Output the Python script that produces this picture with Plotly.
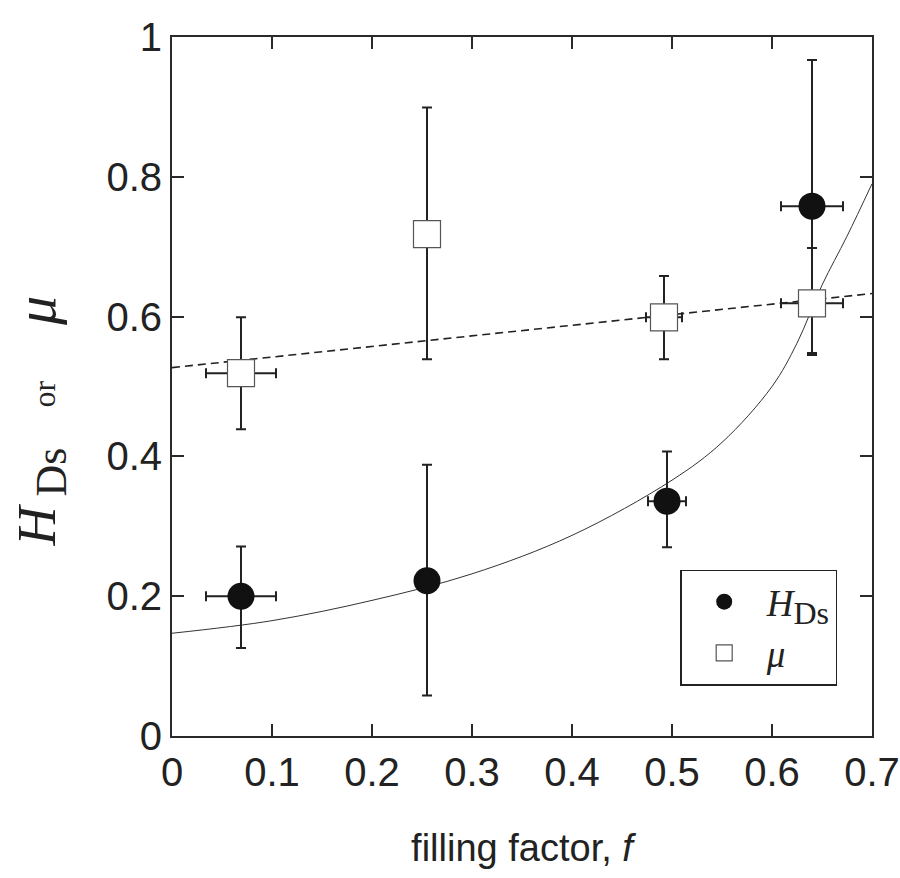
import plotly.graph_objects as go

# --- data ---
hds_x = [0.069, 0.255, 0.495, 0.640]
hds_y = [0.200, 0.222, 0.336, 0.758]
hds_xerr = [0.035, 0.0, 0.019, 0.031]
hds_yerr_plus = [0.071, 0.166, 0.071, 0.209]
hds_yerr_minus = [0.074, 0.164, 0.066, 0.210]

mu_x = [0.069, 0.255, 0.492, 0.640]
mu_y = [0.519, 0.718, 0.599, 0.619]
mu_xerr = [0.035, 0.0, 0.018, 0.031]
mu_yerr_plus = [0.080, 0.181, 0.059, 0.079]
mu_yerr_minus = [0.080, 0.179, 0.060, 0.074]

# fitted curves
hds_fit_x = [0.0, 0.1, 0.2, 0.3, 0.4, 0.5, 0.55, 0.6, 0.625, 0.65, 0.675, 0.7]
hds_fit_y = [0.147, 0.165, 0.194, 0.232, 0.287, 0.366, 0.42, 0.5, 0.562, 0.645, 0.715, 0.79]
mu_fit_x = [0.0, 0.7]
mu_fit_y = [0.527, 0.633]

x_ticks = [0, 0.1, 0.2, 0.3, 0.4, 0.5, 0.6, 0.7]
x_ticktext = ["0", "0.1", "0.2", "0.3", "0.4", "0.5", "0.6", "0.7"]
y_ticks = [0, 0.2, 0.4, 0.6, 0.8, 1.0]
y_ticktext = ["0", "0.2", "0.4", "0.6", "0.8", "1"]

SANS = "Liberation Sans Narrow, Arial Narrow, Liberation Sans, Arial"
SERIF = "Liberation Serif, Times New Roman, DejaVu Serif"
AX = "#2a2a2a"
NB = "\u00a0"

fig = go.Figure()

fig.add_trace(go.Scatter(
    x=hds_fit_x, y=hds_fit_y, mode="lines", line=dict(color="#333", width=1, shape="spline"),
    showlegend=False, hoverinfo="skip"))
fig.add_trace(go.Scatter(
    x=mu_fit_x, y=mu_fit_y, mode="lines", line=dict(color="#222", width=1.6, dash="8px,5px"),
    showlegend=False, hoverinfo="skip"))

fig.add_trace(go.Scatter(
    x=hds_x, y=hds_y, mode="markers",
    name="<i>H</i><sub><span style='font-size:32px'>Ds</span></sub>",
    marker=dict(symbol="circle", size=27, color="#111", line=dict(width=0)),
    error_y=dict(type="data", symmetric=False, array=hds_yerr_plus, arrayminus=hds_yerr_minus,
                 color="#222", thickness=2, width=5),
    error_x=dict(type="data", array=hds_xerr, color="#222", thickness=2, width=5),
))
fig.add_trace(go.Scatter(
    x=mu_x, y=mu_y, mode="markers", name="<i>μ</i>",
    marker=dict(symbol="square", size=27, color="white", line=dict(width=1.2, color="#555")),
    error_y=dict(type="data", symmetric=False, array=mu_yerr_plus, arrayminus=mu_yerr_minus,
                 color="#222", thickness=2, width=5),
    error_x=dict(type="data", array=mu_xerr, color="#222", thickness=2, width=5),
))

axis_common = dict(
    showgrid=False, zeroline=False, showline=True, linecolor=AX, linewidth=2,
    mirror="ticks", ticks="inside", ticklen=12, tickwidth=2, tickcolor=AX,
    tickfont=dict(family=SANS, size=40, color="#222"),
    ticklabeloverflow="allow", automargin=False,
)

ytitle = ("<i>H</i>" + "<span style='font-size:40px'>" + NB + "</span>"
          + "<sub><span style='font-size:44px'>Ds</span></sub>"
          + "<span style='font-size:32px'>" + NB * 5 + "or" + NB * 7 + "</span>"
          + "<i><span style='font-size:58px'>μ</span></i>")

fig.update_layout(
    width=900, height=878,
    margin=dict(l=172, r=28, t=37, b=142),
    paper_bgcolor="white", plot_bgcolor="white",
    xaxis=dict(range=[0, 0.7], tickvals=x_ticks, ticktext=x_ticktext,
               ticklabelstandoff=0,
               title=dict(text="filling factor, <i>f</i>", font=dict(family=SANS, size=38, color="#222"),
                          standoff=41),
               **axis_common),
    yaxis=dict(range=[0, 1], tickvals=y_ticks, ticktext=y_ticktext,
               ticklabelstandoff=0,
               **axis_common),
    annotations=[dict(
        text=ytitle, xref="paper", yref="paper", x=-0.19, y=0.45,
        xanchor="center", yanchor="middle", textangle=-90, showarrow=False,
        font=dict(family=SERIF, size=54, color="#222"))],
    legend=dict(x=0.726, y=0.238, xanchor="left", yanchor="top",
                bordercolor="#222", borderwidth=1.5, bgcolor="white",
                font=dict(family=SERIF, size=37, color="#222"),
                itemsizing="trace", itemwidth=75, tracegroupgap=0),
    showlegend=True,
)

fig.write_html("out.html")
